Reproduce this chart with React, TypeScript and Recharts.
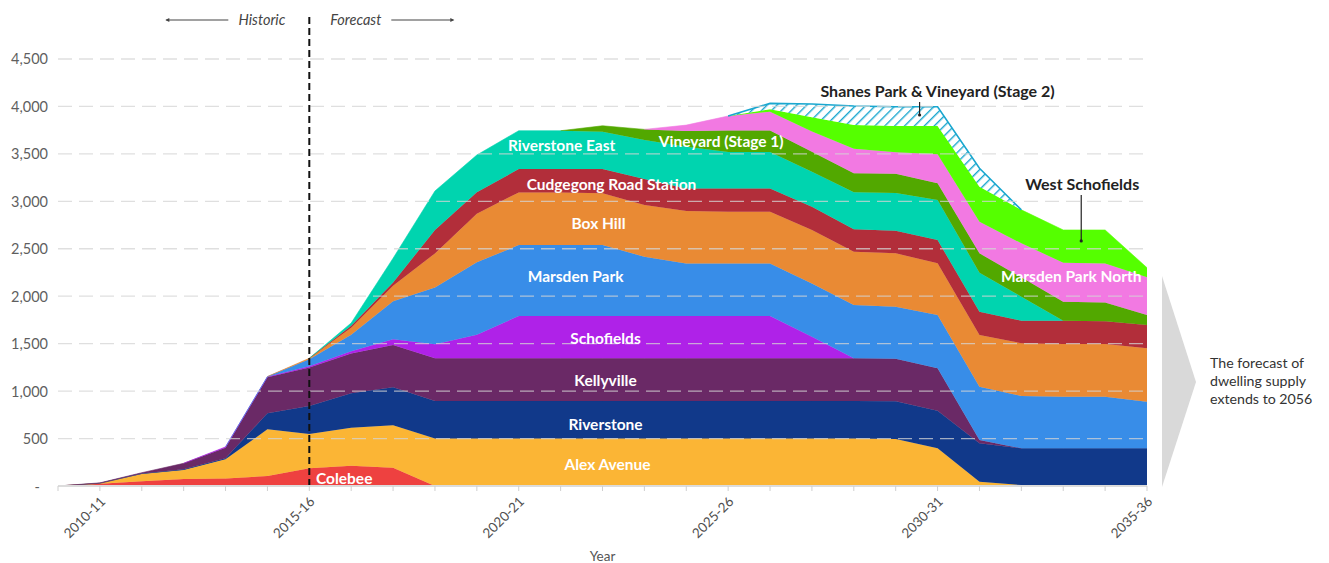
import React from 'react';
import {
  AreaChart,
  Area,
  XAxis,
  YAxis,
  ReferenceLine,
  ReferenceDot,
} from 'recharts';

const years = [
  '2009-10', '2010-11', '2011-12', '2012-13', '2013-14', '2014-15', '2015-16',
  '2016-17', '2017-18', '2018-19', '2019-20', '2020-21', '2021-22', '2022-23',
  '2023-24', '2024-25', '2025-26', '2026-27', '2027-28', '2028-29', '2029-30',
  '2030-31', '2031-32', '2032-33', '2033-34', '2034-35', '2035-36',
];
const labelledYears = ['2010-11', '2015-16', '2020-21', '2025-26', '2030-31', '2035-36'];
const yTicks = [0, 500, 1000, 1500, 2000, 2500, 3000, 3500, 4000, 4500];

const N = null;
const colebee = [0, 25, 50, 75, 80, 105, 188, 214, 193, 0, N, N, N, N, N, N, N, N, N, N, N, N, N, N, N, N, N];
const alexAvenue = [0, 3, 76, 94, 201, 492, 360, 401, 447, 500, 500, 500, 500, 500, 500, 500, 500, 500, 500, 500, 495, 397, 45, 10, 0, N, N];
const riverstone = [0, 0, 7, 7, 11, 169, 295, 362, 400, 395, 395, 395, 395, 395, 395, 395, 395, 395, 395, 395, 397, 397, 405, 387, 397, 397, 397];
const kellyville = [0, 5, 7, 63, 112, 379, 407, 418, 446, 450, 450, 450, 450, 450, 450, 450, 450, 450, 450, 450, 450, 446, 35, 0, N, N, N];
const schofields = [N, N, N, 0, 8, 5, 12, 25, 60, 149, 249, 446, 446, 446, 446, 446, 446, 446, 228, 0, N, N, N, N, N, N, N];
const marsdenPark = [N, N, N, N, 0, 3, 73, 175, 401, 597, 763, 748, 748, 748, 625, 555, 555, 555, 562, 562, 548, 562, 562, 551, 544, 544, 492];
const boxHill = [N, N, N, N, N, 0, 11, 73, 162, 360, 513, 555, 555, 545, 544, 551, 544, 544, 562, 562, 562, 545, 544, 556, 556, 556, 562];
const cudgegong = [N, N, N, N, N, N, 0, 20, 36, 246, 226, 246, 246, 256, 275, 239, 246, 246, 246, 236, 239, 245, 246, 238, 245, 238, 246];
const riverstoneEast = [N, N, N, N, N, N, 0, 30, 255, 412, 392, 404, 404, 393, 410, 439, 384, 384, 368, 390, 397, 422, 411, 253, 0, N, N];
const vineyard1 = [N, N, N, N, N, N, N, N, N, N, N, N, 0, 63, 113, 165, 225, 225, 212, 200, 202, 176, 204, 204, 200, 200, 105];
const marsdenParkNorth = [N, N, N, N, N, N, N, N, N, N, N, N, N, N, 0, 63, 154, 200, 212, 259, 227, 306, 333, 358, 411, 411, 397];
const westSchofields = [N, N, N, N, N, N, N, N, N, N, N, N, N, N, N, N, 0, 25, 151, 251, 277, 298, 369, 353, 345, 352, 101];
const shanesPark = [N, N, N, N, N, N, N, N, N, N, N, N, N, N, N, N, 0, 62, 139, 200, 203, 203, 194, 0, N, N, N];

const seriesDefs = [
  { key: 'Colebee', values: colebee, color: '#EE4140' },
  { key: 'Alex Avenue', values: alexAvenue, color: '#FBB535' },
  { key: 'Riverstone', values: riverstone, color: '#11398A' },
  { key: 'Kellyville', values: kellyville, color: '#6A2966' },
  { key: 'Schofields', values: schofields, color: '#AF22E8' },
  { key: 'Marsden Park', values: marsdenPark, color: '#388DE8' },
  { key: 'Box Hill', values: boxHill, color: '#E98A34' },
  { key: 'Cudgegong Road Station', values: cudgegong, color: '#B22E3A' },
  { key: 'Riverstone East', values: riverstoneEast, color: '#00D4AF' },
  { key: 'Vineyard (Stage 1)', values: vineyard1, color: '#52A800' },
  { key: 'Marsden Park North', values: marsdenParkNorth, color: '#F279E2' },
  { key: 'West Schofields', values: westSchofields, color: '#55FF00' },
];

const data = years.map((year, i) => {
  const row: Record<string, any> = { year };
  seriesDefs.forEach((s) => {
    row[s.key] = s.values[i];
  });
  row['Shanes Park & Vineyard (Stage 2)'] = shanesPark[i];
  return row;
});

// In-area labels: anchored to a category and a value on the chart's own scales
const areaLabels = [
  { text: 'Colebee', x: '2016-17', y: 84, dx: -7 },
  { text: 'Alex Avenue', x: '2022-23', y: 232, dx: 5 },
  { text: 'Riverstone', x: '2022-23', y: 653, dx: 3 },
  { text: 'Kellyville', x: '2022-23', y: 1117, dx: 3 },
  { text: 'Schofields', x: '2022-23', y: 1560, dx: 3 },
  { text: 'Marsden Park', x: '2021-22', y: 2213, dx: 15 },
  { text: 'Box Hill', x: '2022-23', y: 2772, dx: -4 },
  { text: 'Cudgegong Road Station', x: '2022-23', y: 3183, dx: 9 },
  { text: 'Riverstone East', x: '2021-22', y: 3594, dx: 1 },
  { text: 'Vineyard (Stage 1)', x: '2025-26', y: 3636, dx: -7 },
  { text: 'Marsden Park North', x: '2033-34', y: 2213, dx: 8 },
];

const FONT = 'Lato, "Noto Sans", sans-serif';

const XTick = (props: any) => {
  const { x, y, payload } = props;
  if (!labelledYears.includes(payload.value)) return null;
  const ax = x + 3;
  const ay = y + 6;
  return (
    <text
      x={ax}
      y={ay}
      transform={`rotate(-45 ${ax} ${ay})`}
      textAnchor="end"
      fontSize={13.5}
      fill="#505050"
      fontFamily={FONT}
      dy="0.35em"
    >
      {payload.value}
    </text>
  );
};

const YTick = (props: any) => {
  const { x, y, payload } = props;
  const v = payload.value as number;
  return (
    <text
      x={v === 0 ? x - 8 : x}
      y={y}
      textAnchor="end"
      dominantBaseline="central"
      fontSize={14.5}
      fill="#5f5f5f"
      fontFamily={FONT}
    >
      {v === 0 ? '-' : v.toLocaleString('en-US')}
    </text>
  );
};

export default function App() {
  return (
    <div style={{ position: 'absolute', left: 0, top: 0, width: 1329, height: 563, fontFamily: FONT, background: '#fff' }}>
      <AreaChart
        width={1329}
        height={563}
        data={data}
        margin={{ top: 14, right: 182, bottom: 0, left: 0 }}
      >
        <defs>
          <pattern id="hatch" patternUnits="userSpaceOnUse" width="7" height="7" patternTransform="rotate(45)">
            <rect width="7" height="7" fill="#ffffff" />
            <line x1="0" y1="0" x2="0" y2="7" stroke="#1AA7CF" strokeWidth="2.8" />
          </pattern>
        </defs>
        <XAxis
          dataKey="year"
          interval={0}
          tick={<XTick />}
          tickSize={5}
          tickLine={{ stroke: '#cfcfcf' }}
          axisLine={{ stroke: '#dcdcdc', strokeWidth: 2 }}
          height={77}
          label={{ value: 'Year', position: 'insideBottom', offset: 2, fill: '#555', fontSize: 13.5, fontFamily: FONT }}
        />
        <YAxis
          width={58}
          domain={[0, 4974]}
          ticks={yTicks}
          tickLine={false}
          axisLine={false}
          tickMargin={4}
          tick={<YTick />}
        />
        {seriesDefs.map((s) => (
          <Area
            key={s.key}
            type="linear"
            dataKey={s.key}
            stackId="1"
            stroke={s.color}
            strokeWidth={0.6}
            fill={s.color}
            fillOpacity={1}
            isAnimationActive={false}
            dot={false}
            activeDot={false}
          />
        ))}
        <Area
          type="linear"
          dataKey="Shanes Park & Vineyard (Stage 2)"
          stackId="1"
          stroke="#1AA7CF"
          strokeWidth={1.6}
          fill="url(#hatch)"
          fillOpacity={1}
          isAnimationActive={false}
          dot={false}
          activeDot={false}
        />
        {yTicks.filter((t) => t > 0).map((t) => (
          <ReferenceLine
            key={`grid-${t}`}
            y={t}
            stroke="#d4d4d4"
            strokeOpacity={0.75}
            strokeWidth={1.3}
            strokeDasharray="14 7"
          />
        ))}
        <ReferenceLine x="2015-16" stroke="#111" strokeWidth={2} strokeDasharray="7 4" />
        {areaLabels.map((l) => (
          <ReferenceDot
            key={l.text}
            x={l.x}
            y={l.y}
            r={0}
            shape={(p: any) => (
              <text
                x={p.cx + l.dx}
                y={p.cy}
                textAnchor="middle"
                dominantBaseline="central"
                fill="#ffffff"
                fontWeight={700}
                fontSize={15.5}
                fontFamily={FONT}
              >
                {l.text}
              </text>
            )}
          />
        ))}
        <ReferenceDot
          x="2030-31"
          y={4173}
          r={0}
          shape={(p: any) => (
            <g>
              <text x={p.cx} y={p.cy} textAnchor="middle" dominantBaseline="central" fill="#222" fontWeight={700} fontSize={16} fontFamily={FONT}>
                Shanes Park &amp; Vineyard (Stage 2)
              </text>
              <line x1={p.cx - 18} y1={p.cy + 12} x2={p.cx - 18} y2={p.cy + 25} stroke="#222" strokeWidth={1.2} />
              <circle cx={p.cx - 18} cy={p.cy + 25} r={1.6} fill="#222" />
            </g>
          )}
        />
        <ReferenceDot
          x="2033-34"
          y={3183}
          r={0}
          shape={(p: any) => (
            <g>
              <text x={p.cx + 19} y={p.cy} textAnchor="middle" dominantBaseline="central" fill="#222" fontWeight={700} fontSize={16} fontFamily={FONT}>
                West Schofields
              </text>
              <line x1={p.cx + 18} y1={p.cy + 11} x2={p.cx + 18} y2={p.cy + 57} stroke="#222" strokeWidth={1.2} />
              <circle cx={p.cx + 18} cy={p.cy + 57} r={1.6} fill="#222" />
            </g>
          )}
        />
        <ReferenceDot
          x="2015-16"
          y={4911}
          r={0}
          shape={(p: any) => (
            <g fontFamily={FONT} fontSize={14.5} fontStyle="italic" fill="#444">
              <text x={p.cx - 24} y={p.cy} textAnchor="end" dominantBaseline="central">Historic</text>
              <text x={p.cx + 21} y={p.cy} textAnchor="start" dominantBaseline="central">Forecast</text>
              <line x1={p.cx - 143} y1={p.cy} x2={p.cx - 81} y2={p.cy} stroke="#444" strokeWidth={1.2} />
              <path d={`M${p.cx - 144},${p.cy} l4,-2 l0,4 z`} fill="#444" />
              <line x1={p.cx + 82} y1={p.cy} x2={p.cx + 144} y2={p.cy} stroke="#444" strokeWidth={1.2} />
              <path d={`M${p.cx + 145},${p.cy} l-4,-2 l0,4 z`} fill="#444" />
            </g>
          )}
        />
      </AreaChart>
      <svg
        width={1329}
        height={563}
        style={{ position: 'absolute', left: 0, top: 0, pointerEvents: 'none' }}
      >
        <polygon points="1162,276 1196,382 1162,487" fill="#d9d9d9" />
        <g fontFamily={FONT} fontSize={14.2} fill="#333">
          <text x={1210} y={368}>The forecast of</text>
          <text x={1210} y={386}>dwelling supply</text>
          <text x={1210} y={404}>extends to 2056</text>
        </g>
      </svg>
    </div>
  );
}
